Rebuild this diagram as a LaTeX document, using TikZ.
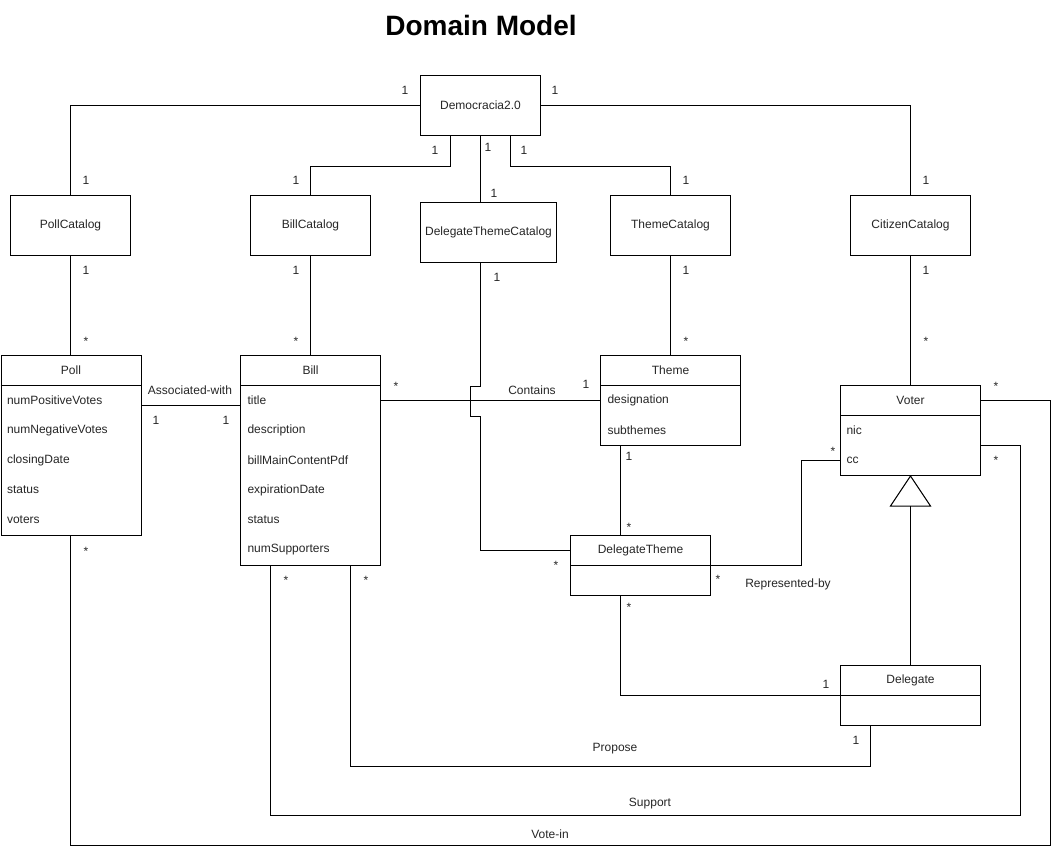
\documentclass[tikz,border=0pt]{standalone}
\usepackage{fontspec}
\setmainfont{Liberation Sans}
\usetikzlibrary{calc}
\begin{document}
\begin{tikzpicture}[x=1pt,y=-1pt,line width=1pt,
  txt/.style={font=\fontsize{12}{14}\selectfont, inner sep=0pt, text=black!85},
  box/.style={draw, fill=white, inner sep=0pt, anchor=north west},
  catbox/.style={box, txt, minimum width=120pt, minimum height=60pt},
  attr/.style={txt, anchor=west},
  mult/.style={txt},
  star/.style={txt, anchor=base}]
\useasboundingbox (0,0) rectangle (1053,851);

% title
\node[font=\bfseries\fontsize{28}{32}\selectfont, inner sep=0pt] (title) at (481,25) {Domain Model};

% top-level and catalogs
\node[catbox] (dem) at (420,75) {Democracia2.0};
\node[catbox] (pcat) at (10,195) {PollCatalog};
\node[catbox] (bcat) at (250,195) {BillCatalog};
\node[catbox, minimum width=136pt] (dtcat) at (420,202) {DelegateThemeCatalog};
\node[catbox] (tcat) at (610,195) {ThemeCatalog};
\node[catbox] (ccat) at (850,195) {CitizenCatalog};

% classes
\node[box, minimum width=140pt, minimum height=180pt] (poll) at (0.5,355) {};
\draw ($(poll.north west)+(0,30)$) -- ($(poll.north east)+(0,30)$);
\node[txt] (poll-t) at ($(poll.north)+(0,15)$) {Poll};
\node[attr] (poll-a1) at ($(poll.north west)+(6,45)$) {numPositiveVotes};
\node[attr] (poll-a2) at ($(poll.north west)+(6,75)$) {numNegativeVotes};
\node[attr] (poll-a3) at ($(poll.north west)+(6,105)$) {closingDate};
\node[attr] (poll-a4) at ($(poll.north west)+(6,135)$) {status};
\node[attr] (poll-a5) at ($(poll.north west)+(6,165)$) {voters};

\node[box, minimum width=140pt, minimum height=210pt] (bill) at (240,355) {};
\draw ($(bill.north west)+(0,30)$) -- ($(bill.north east)+(0,30)$);
\node[txt] (bill-t) at ($(bill.north)+(0,15)$) {Bill};
\node[attr] (bill-a1) at ($(bill.north west)+(7,45)$) {title};
\node[attr] (bill-a2) at ($(bill.north west)+(7,75)$) {description};
\node[attr] (bill-a3) at ($(bill.north west)+(7,105)$) {billMainContentPdf};
\node[attr] (bill-a4) at ($(bill.north west)+(7,135)$) {expirationDate};
\node[attr] (bill-a5) at ($(bill.north west)+(7,165)$) {status};
\node[attr] (bill-a6) at ($(bill.north west)+(7,195)$) {numSupporters};

\node[box, minimum width=140pt, minimum height=90pt] (theme) at (600,355) {};
\draw ($(theme.north west)+(0,30)$) -- ($(theme.north east)+(0,30)$);
\node[txt] (theme-t) at ($(theme.north)+(0,15)$) {Theme};
\node[attr] (theme-a1) at ($(theme.north west)+(7,45)$) {designation};
\node[attr] (theme-a2) at ($(theme.north west)+(7,75)$) {subthemes};

\node[box, minimum width=140pt, minimum height=60pt] (dtheme) at (570,535) {};
\draw ($(dtheme.north west)+(0,30)$) -- ($(dtheme.north east)+(0,30)$);
\node[txt] (dtheme-t) at ($(dtheme.north)+(0,15)$) {DelegateTheme};

\node[box, minimum width=140pt, minimum height=90pt] (voter) at (840,385) {};
\draw ($(voter.north west)+(0,30)$) -- ($(voter.north east)+(0,30)$);
\node[txt] (voter-t) at ($(voter.north)+(0,15)$) {Voter};
\node[attr] (voter-a1) at ($(voter.north west)+(6,45)$) {nic};
\node[attr] (voter-a2) at ($(voter.north west)+(6,75)$) {cc};

\node[box, minimum width=140pt, minimum height=60pt] (del) at (840,665) {};
\draw ($(del.north west)+(0,30)$) -- ($(del.north east)+(0,30)$);
\node[txt] (del-t) at ($(del.north)+(0,15)$) {Delegate};

% connectors from Democracia2.0
\draw (dem.west) -| (pcat.north);
\draw (dem.east) -| (ccat.north);
\draw ([xshift=-30pt]dem.south) -- ++(0,30) -| (bcat.north);
\draw (dem.south) -- (dem.south |- dtcat.north);
\draw ([xshift=30pt]dem.south) -- ++(0,30) -| (tcat.north);

% catalogs to classes
\draw (pcat.south) -- (pcat.south |- poll.north);
\draw (bcat.south) -- (bill.north);
\draw (tcat.south) -- (theme.north);
\draw (ccat.south) -- (voter.north);
\draw (dem.south |- dtcat.south) -- ++(0,123) -- ++(-10,0) -- ++(0,30) -- ++(10,0)
      |- ($(dtheme.north west)+(0,15)$);

% associations
\draw ($(poll.north east)+(0,50)$) -- ($(bill.north west)+(0,50)$);
\draw ($(bill.north east)+(0,45)$) -- ($(theme.north west)+(0,45)$);
\draw ($(theme.south west)+(20,0)$) -- ($(dtheme.north west)+(50,0)$);
\draw ($(dtheme.north east)+(0,30)$) -- ++(90,0) |- ($(voter.north west)+(0,75)$);
\draw ($(dtheme.south west)+(50,0)$) |- ($(del.north west)+(0,30)$);

% generalization
\coordinate (tribase) at ($(voter.south)+(0,30)$);
\draw (voter.south) -- ++(20,30) -- ++(-40,0) -- cycle;
\draw (tribase) -- (del.north);

% long loops
\coordinate (vcorner) at (1050,845);
\coordinate (scorner) at (1020,815);
\draw ($(voter.north east)+(0,15)$) -| (vcorner) -| (pcat.south |- poll.south);
\draw ($(voter.north east)+(0,60)$) -| (scorner) -| ($(bill.south west)+(30,0)$);
\draw ($(del.south west)+(30,0)$) -- ++(0,40) -| ($(bill.south west)+(110,0)$);

% association names
\node[txt] (l-assoc) at (190,390) {Associated-with};
\node[txt] (l-cont) at (532,390) {Contains};
\node[txt] (l-repr) at (788,584) {Represented-by};
\node[txt] (l-prop) at (615,749) {Propose};
\node[txt] (l-supp) at (650,804) {Support};
\node[txt] (l-vote) at (550,834) {Vote-in};

% multiplicities "1"
\node[mult] (m1) at (405,90) {1};
\node[mult] (m2) at (555,90) {1};
\node[mult] (m3) at (435,150) {1};
\node[mult] (m4) at (488,147) {1};
\node[mult] (m5) at (524,150) {1};
\node[mult] (m6) at (86,180) {1};
\node[mult] (m7) at (296,180) {1};
\node[mult] (m8) at (494,193) {1};
\node[mult] (m9) at (686,180) {1};
\node[mult] (m10) at (926,180) {1};
\node[mult] (m11) at (86,270) {1};
\node[mult] (m12) at (296,270) {1};
\node[mult] (m13) at (497,277) {1};
\node[mult] (m14) at (686,270) {1};
\node[mult] (m15) at (926,270) {1};
\node[mult] (m16) at (156,420) {1};
\node[mult] (m17) at (226,420) {1};
\node[mult] (m18) at (586,384) {1};
\node[mult] (m19) at (629,456) {1};
\node[mult] (m20) at (826,684) {1};
\node[mult] (m21) at (856,740) {1};

% multiplicities "*"
\node[star] (s1) at (86,345) {*};
\node[star] (s2) at (296,345) {*};
\node[star] (s3) at (686,345) {*};
\node[star] (s4) at (926,345) {*};
\node[star] (s5) at (396,390) {*};
\node[star] (s6) at (86,555) {*};
\node[star] (s7) at (286,584) {*};
\node[star] (s8) at (366,584) {*};
\node[star] (s9) at (629,531) {*};
\node[star] (s10) at (556,569) {*};
\node[star] (s11) at (718,583) {*};
\node[star] (s12) at (629,611) {*};
\node[star] (s13) at (833,455) {*};
\node[star] (s14) at (996,390) {*};
\node[star] (s15) at (996,464) {*};
\end{tikzpicture}
\end{document}
